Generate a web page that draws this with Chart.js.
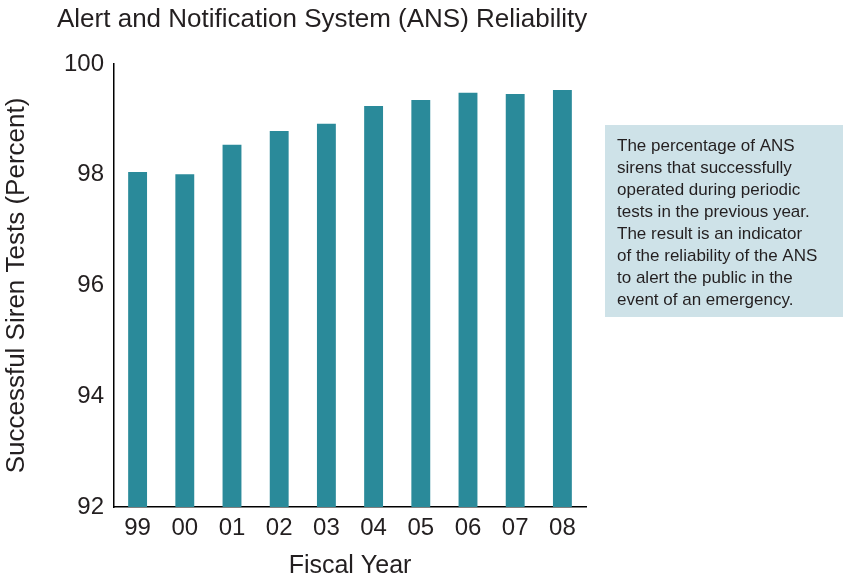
<!DOCTYPE html>
<html>
<head>
<meta charset="utf-8">
<script src="https://cdn.jsdelivr.net/npm/chart.js@4"></script>
<style>
  html, body { margin: 0; padding: 0; background: #fff; }
  #wrap { position: relative; width: 843px; height: 581px; }
</style>
</head>
<body>
<div id="wrap"><canvas id="c" width="843" height="581"></canvas></div>
<script>
// Fiscal years and the share of sirens that passed their periodic tests
const fiscalYears = ['99', '00', '01', '02', '03', '04', '05', '06', '07', '08'];
const successRate = [98.05, 98.01, 98.54, 98.79, 98.92, 99.24, 99.35, 99.48, 99.46, 99.53];
const yTicks = [92, 94, 96, 98, 100];

const chartTitle = 'Alert and Notification System (ANS) Reliability';
const noteLines = [
  'The percentage of ANS',
  'sirens that successfully',
  'operated during periodic',
  'tests in the previous year.',
  'The result is an indicator',
  'of the reliability of the ANS',
  'to alert the public in the',
  'event of an emergency.'
];

const FONT = '"Liberation Sans", Arial, sans-serif';
const TEXT = '#231f20';

// Title above the plot and the explanatory note box on the right
const annotations = {
  id: 'annotations',
  afterDraw(chart) {
    const ctx = chart.ctx;
    ctx.save();
    ctx.fillStyle = TEXT;
    ctx.font = '26px ' + FONT;
    ctx.textBaseline = 'alphabetic';
    ctx.textAlign = 'left';
    ctx.fillText(chartTitle, 57, 27);

    const bx = 605, by = 125, bw = 238, bh = 192;
    ctx.fillStyle = '#cee2e8';
    ctx.fillRect(bx, by, bw, bh);
    ctx.fillStyle = TEXT;
    ctx.font = '17px ' + FONT;
    noteLines.forEach((line, i) => {
      ctx.fillText(line, 617, 150.5 + i * 22);
    });
    ctx.restore();
  }
};

new Chart(document.getElementById('c'), {
  type: 'bar',
  data: {
    labels: fiscalYears,
    datasets: [{
      data: successRate,
      backgroundColor: '#2a8a9a',
      borderWidth: 0,
      categoryPercentage: 0.8,
      barPercentage: 0.5
    }]
  },
  options: {
    responsive: false,
    animation: false,
    events: [],
    layout: { padding: { left: 0, top: 64, right: 257, bottom: 0 } },
    plugins: {
      legend: { display: false },
      title: { display: false },
      tooltip: { enabled: false }
    },
    scales: {
      x: {
        grid: { display: false, drawTicks: false },
        border: { display: true, color: '#000', width: 1.5 },
        ticks: { color: TEXT, font: { family: FONT, size: 24 }, padding: 7, maxRotation: 0 },
        title: { display: true, text: 'Fiscal Year', color: TEXT, font: { family: FONT, size: 25 }, padding: { top: 0, bottom: 0 } },
        afterFit(scale) { scale.height = 74; }
      },
      y: {
        min: 92, max: 100,
        afterBuildTicks(scale) { scale.ticks = yTicks.map(v => ({ value: v })); },
        grid: { display: false, drawTicks: false },
        border: { display: true, color: '#000', width: 1.5 },
        ticks: { color: TEXT, font: { family: FONT, size: 24 }, padding: 10 },
        title: { display: true, text: 'Successful Siren Tests (Percent)', color: TEXT, font: { family: FONT, size: 26 }, padding: { top: 1, bottom: 0 } },
        afterFit(scale) { scale.width = 114; }
      }
    }
  },
  plugins: [annotations]
});
</script>
</body>
</html>
